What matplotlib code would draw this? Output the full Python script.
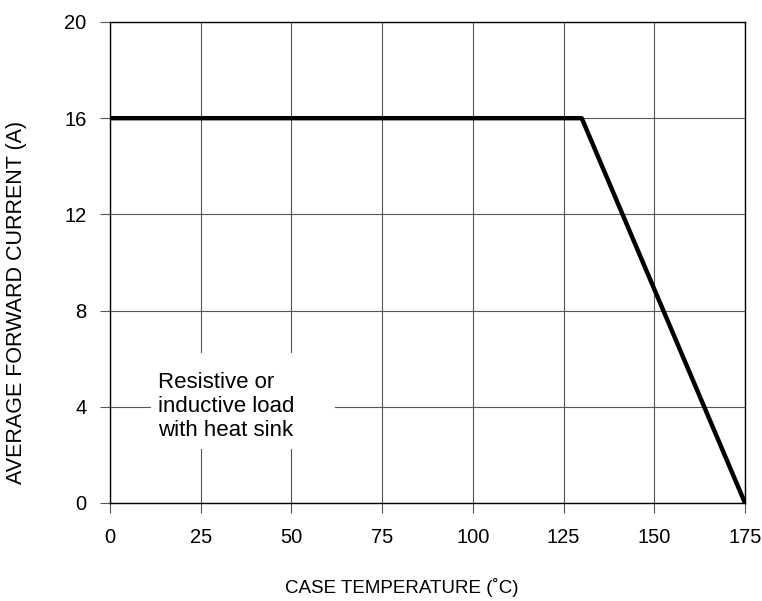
import matplotlib.pyplot as plt
from matplotlib.patches import Rectangle
import numpy as np

plt.rcParams['font.family'] = ['Liberation Sans', 'DejaVu Sans']

# derating curve
temp = [0, 130, 175]
current = [16, 16, 0]

x_ticks = [0, 25, 50, 75, 100, 125, 150, 175]
y_ticks = [0, 4, 8, 12, 16, 20]

fig = plt.figure(figsize=(7.62, 6.01), dpi=100)
ax = fig.add_axes([0.1444, 0.1631, 0.8333, 0.8003])

ax.plot(temp, current, color='black', linewidth=3.2, solid_capstyle='butt', zorder=3)

ax.set_xlim(0, 175)
ax.set_ylim(0, 20)
ax.set_xticks(x_ticks)
ax.set_yticks(y_ticks)
ax.grid(True, color='#555555', linewidth=0.8)
ax.tick_params(direction='out', length=7, width=0.8, color='#555555', labelsize=14.5)
ax.tick_params(axis='x', pad=11)
ax.tick_params(axis='y', pad=10)
for s in ax.spines.values():
    s.set_linewidth(1.0)
    s.set_color('black')

ax.set_xlabel('CASE TEMPERATURE (˚C)', fontsize=13.5)
ax.set_ylabel('AVERAGE FORWARD CURRENT (A)', fontsize=15.5)
ax.xaxis.set_label_coords(0.46, -0.156)
ax.yaxis.set_label_coords(-0.13, 0.416)

# white patch behind the note, hides the grid
ax.add_patch(Rectangle((11.3, 2.25), 50.7, 4.0, facecolor='white', edgecolor='none', zorder=2))
ax.text(13.3, 4.0, 'Resistive or\ninductive load\nwith heat sink', fontsize=16,
        ha='left', va='center', linespacing=1.2, zorder=4)

fig.savefig('out.png', dpi=100)
